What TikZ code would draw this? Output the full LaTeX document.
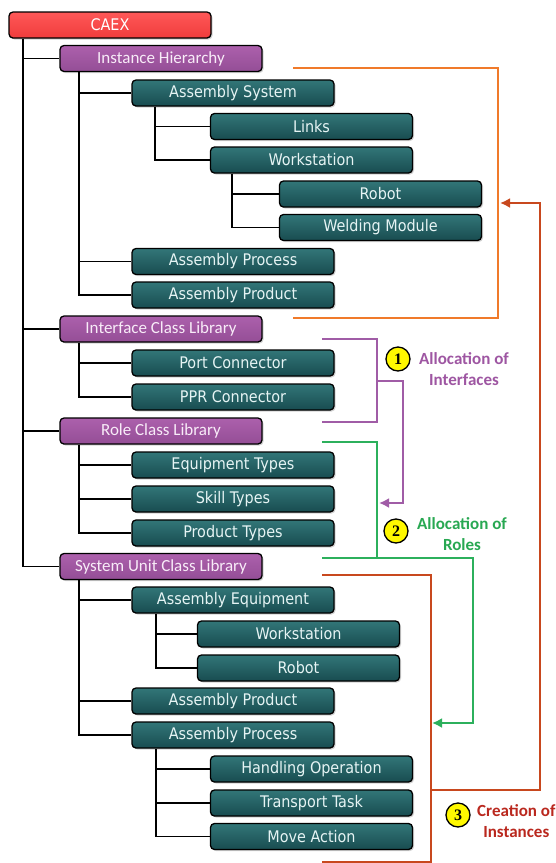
\documentclass[tikz,border=0pt]{standalone}
\usepackage{fontspec}
\usetikzlibrary{shadows,arrows.meta}
\newfontfamily\boxfont{DejaVu Sans Condensed}
\newfontfamily\libfont{Carlito}
\newfontfamily\numfont{Liberation Serif}

\definecolor{tealtop}{RGB}{50,118,120}
\definecolor{tealbot}{RGB}{24,76,80}
\definecolor{tealtext}{RGB}{230,244,244}
\definecolor{purptop}{RGB}{172,96,172}
\definecolor{purpbot}{RGB}{148,78,150}
\definecolor{purptext}{RGB}{248,236,248}
\definecolor{redtop}{RGB}{255,88,88}
\definecolor{redbot}{RGB}{240,60,60}
\definecolor{instline}{RGB}{240,122,42}
\definecolor{createline}{RGB}{200,72,30}
\definecolor{ifline}{RGB}{160,92,166}
\definecolor{roleline}{RGB}{44,176,92}
\definecolor{iftext}{RGB}{158,86,162}
\definecolor{roletext}{RGB}{40,168,82}
\definecolor{createtext}{RGB}{186,40,30}
\definecolor{badge}{RGB}{255,248,0}

\tikzset{
  box/.style={rounded corners=4pt, draw=black, line width=1.3pt,
    minimum width=202pt, minimum height=26pt, inner sep=0pt,
    drop shadow={shadow xshift=1.5pt, shadow yshift=-1.5pt, opacity=0.35}},
  tealbox/.style={box, top color=tealtop, bottom color=tealbot,
    text=tealtext, font=\boxfont\fontsize{16}{18}\selectfont},
  purpbox/.style={box, top color=purptop, bottom color=purpbot,
    text=purptext, font=\libfont\fontsize{17}{19}\selectfont},
  rootbox/.style={box, top color=redtop, bottom color=redbot,
    text=white, font=\boxfont\fontsize{16}{18}\selectfont},
  tree/.style={draw=black, line width=1.8pt},
  flow/.style={line width=2.6pt},
  flowtip/.style={-{Latex[length=10pt,width=10pt]}},
  badgenode/.style={circle, draw=black, line width=1.3pt, fill=badge,
    minimum size=24pt, inner sep=0pt, font=\numfont\bfseries\fontsize{16}{18}\selectfont},
  note/.style={align=center, font=\libfont\bfseries\fontsize{17}{21}\selectfont}
}

\begin{document}
\begin{tikzpicture}[x=1pt,y=-1pt]
\useasboundingbox[fill=white] (0,0) rectangle (555,863);

% ---- hierarchy boxes ----
\node[rootbox] (caex)  at (110,25)    {CAEX};
\node[purpbox] (ih)    at (161,58.5)  {Instance Hierarchy};
\node[tealbox] (asys)  at (233,93)    {Assembly System};
\node[tealbox] (links) at (311.5,126.5) {Links};
\node[tealbox] (ws)    at (311.5,160) {Workstation};
\node[tealbox] (rob)   at (380.5,194) {Robot};
\node[tealbox] (weld)  at (380.5,227.5) {Welding Module};
\node[tealbox] (aproc) at (233,261.5) {Assembly Process};
\node[tealbox] (aprod) at (233,295)   {Assembly Product};
\node[purpbox] (icl)   at (161,329)   {Interface Class Library};
\node[tealbox] (port)  at (233,363)   {Port Connector};
\node[tealbox] (ppr)   at (233,397)   {PPR Connector};
\node[purpbox] (rcl)   at (161,431)   {Role Class Library};
\node[tealbox] (eqt)   at (233,465)   {Equipment Types};
\node[tealbox] (skt)   at (233,499)   {Skill Types};
\node[tealbox] (prt)   at (233,533)   {Product Types};
\node[purpbox] (sucl)  at (161,566.5) {System Unit Class Library};
\node[tealbox] (aeq)   at (233,600)   {Assembly Equipment};
\node[tealbox] (ws2)   at (298.5,634) {Workstation};
\node[tealbox] (rob2)  at (298.5,668) {Robot};
\node[tealbox] (aprod2) at (233,701)  {Assembly Product};
\node[tealbox] (aproc2) at (233,735)  {Assembly Process};
\node[tealbox] (hop)   at (311.5,769) {Handling Operation};
\node[tealbox] (tt)    at (311.5,803) {Transport Task};
\node[tealbox] (ma)    at (311.5,836.5) {Move Action};

% ---- tree connectors ----
\coordinate (t0) at ([xshift=15pt]caex.south west);
\draw[tree] (t0) |- (sucl.west);
\foreach \c in {ih,icl,rcl} \draw[tree] (t0 |- \c.west) -- (\c.west);

\coordinate (t1) at ([xshift=20pt]ih.south west);
\draw[tree] (t1) |- (aprod.west);
\foreach \c in {asys,aproc} \draw[tree] (t1 |- \c.west) -- (\c.west);

\coordinate (t2) at ([xshift=24pt]asys.south west);
\draw[tree] (t2) |- (ws.west);
\draw[tree] (t2 |- links.west) -- (links.west);

\coordinate (t3) at ([xshift=22pt]ws.south west);
\draw[tree] (t3) |- (weld.west);
\draw[tree] (t3 |- rob.west) -- (rob.west);

\coordinate (t4) at ([xshift=20pt]icl.south west);
\draw[tree] (t4) |- (ppr.west);
\draw[tree] (t4 |- port.west) -- (port.west);

\coordinate (t5) at ([xshift=20pt]rcl.south west);
\draw[tree] (t5) |- (prt.west);
\foreach \c in {eqt,skt} \draw[tree] (t5 |- \c.west) -- (\c.west);

\coordinate (t6) at ([xshift=20pt]sucl.south west);
\draw[tree] (t6) |- (aproc2.west);
\foreach \c in {aeq,aprod2} \draw[tree] (t6 |- \c.west) -- (\c.west);

\coordinate (t7) at ([xshift=25pt]aeq.south west);
\draw[tree] (t7) |- (rob2.west);
\draw[tree] (t7 |- ws2.west) -- (ws2.west);

\coordinate (t8) at ([xshift=25pt]aproc2.south west);
\draw[tree] (t8) |- (ma.west);
\foreach \c in {hop,tt} \draw[tree] (t8 |- \c.west) -- (\c.west);

% ---- instance hierarchy bracket ----
\coordinate (ihA) at (293,68);
\coordinate (ihB) at (498,318);
\coordinate (ihC) at (293,318);
\draw[flow, draw=instline] (ihA) -| (ihB) -- (ihC);

% ---- interface class bracket and allocation arrow ----
\coordinate (ifA) at (322,339);
\coordinate (ifB) at (377,422);
\coordinate (ifC) at (322,422);
\coordinate (ifM) at (377,381);
\coordinate (ifD) at (403,503);
\coordinate (ifE) at (379,503);
\draw[flow, draw=ifline] (ifA) -| (ifB) -- (ifC);
\draw[flow, draw=ifline, flowtip] (ifM) -| (ifD) -- (ifE);

% ---- role class bracket and allocation arrow ----
\coordinate (roA) at (322,442);
\coordinate (roB) at (377,558);
\coordinate (roC) at (322,558);
\coordinate (roD) at (473,723);
\coordinate (roE) at (432,723);
\draw[flow, draw=roleline] (roA) -| (roB) -- (roC);
\draw[flow, draw=roleline, flowtip] (roB) -| (roD) -- (roE);

% ---- system unit class bracket and instantiation arrow ----
\coordinate (suA) at (322,575);
\coordinate (suB) at (431,862.5);
\coordinate (suC) at (322,862.5);
\coordinate (suM) at (431,790);
\coordinate (suD) at (540,203);
\coordinate (suE) at (500,203);
\draw[flow, draw=createline] (suA) -| (suB) -- (suC);
\draw[flow, draw=createline, flowtip] (suM) -| (suD) -- (suE);

% ---- step badges and notes ----
\node[badgenode] (b1) at (398,359) {1};
\node[note, text=iftext, anchor=west] (n1) at ([xshift=5pt]b1.east |- 0,369.5) {Allocation of\\Interfaces};
\node[badgenode] (b2) at (396,531) {2};
\node[note, text=roletext, anchor=west] (n2) at ([xshift=5pt]b2.east |- 0,534) {Allocation of\\Roles};
\node[badgenode] (b3) at (458,815) {3};
\node[note, text=createtext, anchor=west] (n3) at ([xshift=3pt]b3.east |- 0,821.5) {Creation of\\Instances};
\end{tikzpicture}
\end{document}
